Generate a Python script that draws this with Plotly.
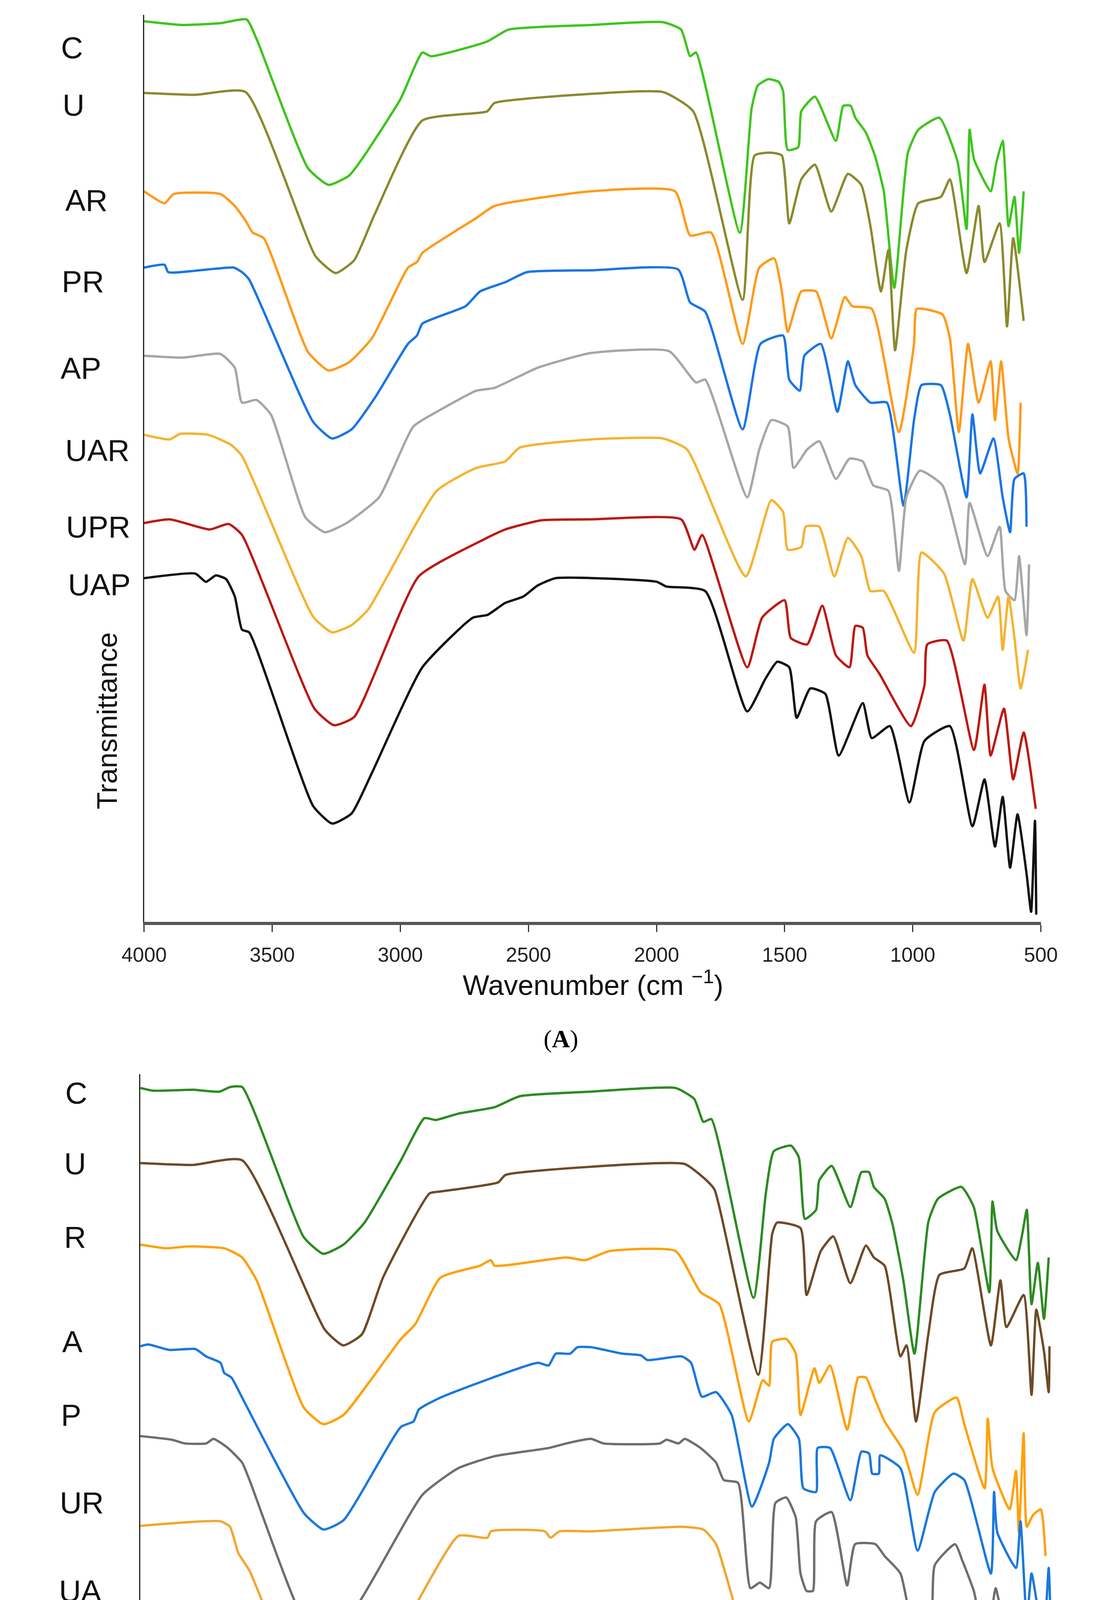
import plotly.graph_objects as go

# FTIR spectra, (wavenumber cm-1, transmittance offset)
A_C = [(4000,98),(3850,97.6),(3700,97.8),(3600,98.2),(3560,96),(3360,82),(3280,80.2),(3200,81.2),(3150,83),(3000,89.5),(2914,94.6),(2880,94.2),(2661,95.8),(2577,97.1),(2256,97.6),(1975,97.9),(1904,97.1),(1869,94.2),(1846,94.6),(1675,75),(1629,88.5),(1605,91),(1564,91.7),(1523,91.4),(1506,90.4),(1488,84),(1447,84.3),(1435,88.2),(1382,89.8),(1300,85),(1271,88.8),(1242,88.8),(1224,87.5),(1183,85.9),(1148,83.4),(1113,79.5),(1072,69),(1019,83.7),(978,86.2),(896,87.5),(825,82.7),(790,75.4),(778,86.2),(761,83),(696,79.5),(673,82.7),(649,85),(626,75.7),(603,78.9),(585,72.8),(567,79.5)]
A_U = [(4000,90.2),(3800,90),(3604,90.3),(3330,72.4),(3252,70.6),(3180,72),(3100,77),(2914,87.2),(2661,88.2),(2633,89.1),(2256,90.1),(1975,90.3),(1857,88.2),(1664,67.7),(1617,83.4),(1552,83.7),(1511,83.4),(1482,76),(1435,80.8),(1382,82.4),(1318,77.3),(1253,81.4),(1201,80.2),(1165,75.7),(1124,68.6),(1095,73.1),(1069,62.2),(1025,73.1),(978,78.2),(890,78.9),(855,80.8),(790,70.6),(743,77.9),(720,71.8),(661,76),(632,64.8),(608,74.4),(567,65.4)]
A_AR = [(4000,79.5),(3920,78.2),(3885,79.2),(3702,79.2),(3646,77.9),(3604,76.3),(3576,75),(3533,74.4),(3360,62),(3280,60),(3200,60.9),(3111,63.5),(2970,71.2),(2935,71.8),(2914,72.8),(2703,76.6),(2633,77.9),(2256,79.5),(1928,79.5),(1869,74.7),(1787,75),(1664,62.9),(1599,71.2),(1541,72.2),(1511,68.6),(1488,64.2),(1435,68.6),(1377,68.6),(1318,63.5),(1265,68),(1236,67),(1160,66.7),(1054,53.3),(995,62.9),(984,66.7),(884,66.1),(855,63.5),(820,53.3),(784,62.9),(743,56.5),(696,61),(679,54.6),(655,61),(626,52.6),(591,48.8),(579,56.5)]
A_PR = [(4000,71.2),(3920,71.5),(3906,70.7),(3750,71),(3650,71.2),(3618,70.7),(3590,69.9),(3340,54.4),(3266,52.6),(3190,53.6),(3100,57),(2970,62.9),(2935,63.8),(2914,65.1),(2745,67),(2689,68.6),(2591,69.6),(2506,70.7),(2256,70.9),(1916,71),(1869,67.4),(1810,66.4),(1664,53.6),(1594,62.9),(1506,63.8),(1482,59),(1441,57.8),(1423,61.6),(1359,62.9),(1294,55.5),(1253,61),(1224,58.4),(1165,56.5),(1101,56.5),(1036,45.3),(995,54.6),(966,58.4),(890,58.4),(855,55.2),(790,46.2),(767,55.2),(737,48.8),(685,52.6),(649,46.2),(620,42.4),(603,48.2),(567,48.8),(556,43)]
A_AP = [(4000,61.6),(3850,61.4),(3702,61.8),(3646,60.3),(3618,56.5),(3562,56.8),(3505,55.2),(3370,44),(3294,42.4),(3210,43.4),(3083,46.2),(2949,53.9),(2858,55.5),(2703,57.8),(2633,58.1),(2464,60.3),(2256,61.9),(1951,62.1),(1846,58.7),(1810,59),(1646,46.2),(1599,51.4),(1552,54.6),(1488,53.9),(1465,49.4),(1412,51.4),(1365,52.3),(1300,48.2),(1247,50.4),(1195,50.1),(1154,47.5),(1095,46.9),(1054,38.2),(1025,46.2),(972,49.1),(884,47.5),(796,38.9),(778,45.6),(708,39.8),(661,43),(638,36),(603,35),(585,39.8),(556,31.2),(546,38.9)]
A_UAR = [(4000,53),(3900,52.5),(3860,53.1),(3750,53),(3660,51.9),(3618,50.7),(3340,33.2),(3266,31.5),(3190,32.3),(3125,34),(2858,46.9),(2703,49.4),(2591,50.1),(2534,51.6),(2256,52.5),(1975,52.6),(1881,51.4),(1652,37.6),(1552,45.9),(1506,44.6),(1488,40.5),(1435,40.8),(1418,43),(1365,43),(1306,37.6),(1253,41.8),(1201,39.8),(1165,36),(1113,36),(995,29.3),(966,40.2),(878,37.9),(802,30.6),(767,37.3),(708,33.1),(667,35.4),(649,29.6),(626,35.4),(603,30.9),(579,25.4),(550,29.6)]
A_UPR = [(4000,43.4),(3900,43.8),(3744,42.7),(3670,43.3),(3618,42.1),(3335,23.2),(3259,21.4),(3180,22.3),(2928,37.6),(2675,41.6),(2591,42.7),(2450,43.7),(2256,43.8),(1904,43.8),(1852,40.5),(1822,42.1),(1646,27.7),(1588,33.1),(1500,35),(1476,30.9),(1412,30.2),(1353,34.4),(1300,29),(1247,27.7),(1224,32.2),(1195,32),(1177,29),(1130,27),(1007,21.3),(954,25.8),(943,30.2),(867,30.6),(761,18.7),(720,25.8),(696,18.1),(644,23.2),(608,15.5),(567,20.6),(520,12.3)]
A_UAP = [(4000,37.4),(3800,37.9),(3759,37),(3720,37.7),(3680,37.3),(3646,35.4),(3618,31.8),(3590,31.5),(3340,12.6),(3266,10.7),(3190,11.8),(3111,16.2),(2914,27.7),(2717,33.1),(2660,33.4),(2591,34.7),(2520,35.4),(2464,36.6),(2394,37.4),(1998,37),(1963,36.5),(1810,36),(1646,22.9),(1576,26.4),(1529,28.3),(1482,27.7),(1453,22.2),(1400,25.4),(1341,24.8),(1289,18.1),(1195,23.8),(1160,20),(1089,21.3),(1013,13),(954,19.7),(855,21.3),(767,10.4),(720,15.5),(679,8.2),(649,13.6),(620,5.9),(591,11.7),(556,5.3),(538,1.1),(523,11),(518,0.8)]

B_C = [(4000,96.7),(3950,96.4),(3800,96.5),(3700,96.3),(3660,96.8),(3614,96.8),(3380,80.4),(3306,78.6),(3230,79.6),(3150,82),(3012,88.8),(2923,93.4),(2880,93.2),(2794,93.9),(2657,94.6),(2561,95.8),(2291,96.3),(1971,96.7),(1900,95.5),(1865,93),(1835,93.3),(1675,73.8),(1628,85.3),(1598,89.8),(1533,90.4),(1503,89.1),(1480,82.4),(1438,83.4),(1426,86.6),(1379,88.2),(1308,83.7),(1266,87.5),(1237,87.5),(1219,85.9),(1178,84.6),(1148,81.8),(1107,75.7),(1065,67.7),(1012,82.1),(976,84.6),(887,85.9),(840,83.7),(781,74.4),(769,84.3),(751,81.1),(680,77.9),(656,80.8),(639,83.4),(621,73.1),(597,77.6),(574,71.5),(556,78.2)]
B_U = [(4000,88.5),(3800,88.3),(3614,88.8),(3300,70.3),(3231,68.6),(3160,69.8),(3080,76),(2903,85.2),(2862,85.4),(2643,86.4),(2616,87.2),(2291,88.1),(1936,88.4),(1853,86.6),(1823,85.6),(1657,65.4),(1604,80.8),(1586,82),(1497,81.4),(1474,74.1),(1420,78.9),(1373,80.5),(1308,75.4),(1249,79.5),(1219,78.2),(1178,77.3),(1118,67.4),(1095,68.6),(1059,60.3),(1012,69.9),(970,76.3),(876,77),(846,79.2),(775,68.6),(739,75.7),(716,70.6),(651,74.1),(621,63.2),(603,72.5),(574,68),(556,63.5),(553,68.5)]
B_R = [(4000,79.6),(3901,79.2),(3820,79.4),(3682,79.2),(3614,78.2),(3559,75.7),(3380,61.8),(3306,60),(3230,61),(3012,69.3),(2958,70.9),(2862,76),(2712,77.3),(2671,77.9),(2657,77.3),(2384,78.2),(2315,77.9),(2220,78.9),(1971,78.9),(1876,74.4),(1805,73.1),(1693,60.3),(1640,64.8),(1616,64.2),(1604,69),(1551,69.3),(1515,67.7),(1497,61),(1444,66.1),(1426,64.5),(1385,66.4),(1320,59.4),(1278,65.1),(1249,65.1),(1213,62.6),(1178,60.3),(1107,57.1),(1053,52.3),(988,61.3),(905,62.9),(876,60),(799,53),(787,60.6),(769,55.2),(704,50.7),(680,54.9),(669,48.2),(651,59),(639,48.8),(615,50.1),(586,50.7),(568,45.6)]
B_A = [(4000,68.5),(3970,68.7),(3890,68.1),(3791,68.2),(3751,67.4),(3696,66.7),(3682,65.6),(3655,65.1),(3614,62.9),(3380,50.3),(3306,48.5),(3230,49.5),(3012,59.7),(2964,60.3),(2944,61.6),(2862,62.9),(2493,66.7),(2452,66.4),(2425,67.7),(2370,67.7),(2343,68.4),(2291,68.4),(2173,67.7),(2101,67.5),(2078,67),(1947,67.4),(1912,66.7),(1871,63),(1817,63.5),(1758,61),(1681,51),(1616,55.8),(1598,58.4),(1545,60),(1503,58.4),(1486,53),(1438,52.6),(1432,57.4),(1385,57.4),(1308,51.7),(1266,57),(1237,56.8),(1225,54.6),(1200,54.6),(1195,56.6),(1118,55.2),(1053,46.2),(988,52.6),(917,54.6),(876,53.9),(775,43.7),(763,52.6),(751,48.2),(680,44.3),(663,49.4),(639,38.6),(621,43.7),(597,39.8),(576,35.7),(556,44.3),(550,39.8)]
B_P = [(4000,58.7),(3880,58.3),(3832,57.9),(3750,57.9),(3723,58.4),(3668,57.4),(3614,55.8),(3586,53.9),(3390,39.2),(3320,37.6),(3204,39.2),(2930,52.3),(2794,55.2),(2657,56.5),(2452,57.4),(2384,57.9),(2291,58.4),(2244,57.9),(2030,57.9),(2005,58.3),(1959,57.9),(1936,58.4),(1876,57.4),(1817,55.8),(1788,53.9),(1734,53.6),(1687,42.1),(1651,42.7),(1616,42.1),(1592,51.4),(1551,52),(1515,49.8),(1497,43.7),(1474,41.8),(1450,41.8),(1438,49.4),(1379,50.4),(1320,42.4),(1290,46.9),(1213,46.9),(1178,45.6),(1118,43.7),(1059,36.6),(1006,36.6),(988,44.6),(911,46.9),(882,45),(840,41.8),(793,35.7),(757,42.1),(739,40.2),(680,38.6),(656,40.5),(633,38.6),(609,35),(591,37.9),(568,35.7),(552,38.9),(550,34.1)]
B_UR = [(4000,48.9),(3696,49.4),(3660,48.8),(3628,45.9),(3586,44),(3370,29.2),(3299,27.5),(3190,29),(2971,39.5),(2794,47.8),(2684,47.6),(2671,48.3),(2466,48.3),(2445,47.6),(2411,48.3),(2291,48.3),(1947,48.8),(1865,48.5),(1817,46.9),(1657,32.2),(1580,40.2),(1497,40.2),(1474,37.6),(1462,34.4),(1426,34.7),(1409,38.2),(1361,37.9),(1308,34.1),(1278,31.8),(1260,37),(1213,36.6),(1148,34.7),(1018,23.8),(982,31.2),(929,32.8),(858,32.8),(775,24.2),(739,29),(722,29.6),(698,25.1),(663,29),(645,22.6),(633,27),(621,22.6),(609,28.6),(586,26.4),(568,28.3),(556,21.3),(538,22.2)]
B_UA = [(4000,39.7),(3914,39.1),(3860,39.5),(3805,39.2),(3696,37.6),(3668,36.3),(3648,34.7),(3586,32.2),(3385,20.1),(3313,18.4),(3240,19),(3177,20.3),(2958,32.8),(2862,36.3),(2725,37),(2630,37.4),(2466,38.2),(2291,38.2),(1936,38.2),(1876,36.6),(1835,33.4),(1782,33.8),(1734,29.6),(1710,29.6),(1675,22.6),(1592,29.3),(1539,30.6),(1521,29),(1486,23.2),(1426,23.8),(1373,27.7),(1320,27.7),(1284,21.9),(1183,27.4),(1107,25.8),(994,16.8),(964,23.2),(899,25.1),(858,24.2),(763,16.2),(751,19.4),(728,18.7),(674,14.2),(651,17.4),(627,11),(609,16.2),(586,13),(550,13.3),(538,14)]
B_UP = [(4000,28.8),(3780,28.8),(3751,29.1),(3710,28.8),(3682,28.6),(3641,27.4),(3390,6.9),(3306,4.8),(3231,5.9),(2985,18.1),(2766,27.8),(2684,28.3),(2520,28.2),(2466,28.8),(2356,28.4),(2322,28),(2184,27.8),(1959,28),(1924,27.4),(1865,26.4),(1788,26.5),(1669,13.6),(1610,18.7),(1586,18.7),(1568,20.6),(1515,20.6),(1480,13.3),(1426,13.6),(1409,18.4),(1355,17.8),(1308,17.1),(1272,12.6),(1243,15.2),(1059,14.2),(1018,6.6),(988,11.7),(947,13.9),(882,14.9),(799,6.2),(751,9.4),(722,12.3),(698,8.5),(686,10.4),(663,2.1),(621,7.8),(609,4),(586,5.9),(538,6.6),(536,0.5)]

names_a = ["C", "U", "AR", "PR", "AP", "UAR", "UPR", "UAP"]
names_b = ["C", "U", "R", "A", "P", "UR", "UA", "UP"]
colors_a = ["#3ec51e", "#8a8a2e", "#ff9a1a", "#1a75e6", "#a6a6a6", "#f5b330", "#bb1a12", "#111111"]
colors_b = ["#2d8a22", "#6e4a26", "#ffa00a", "#1a78dd", "#6e6e6e", "#f2a630", "#b3141a", "#000000"]
spectra_a = [A_C, A_U, A_AR, A_PR, A_AP, A_UAR, A_UPR, A_UAP]
spectra_b = [B_C, B_U, B_R, B_A, B_P, B_UR, B_UA, B_UP]
ticks = [4000, 3500, 3000, 2500, 2000, 1500, 1000, 500]

W, H = 2820, 5421
fig = go.Figure()

for spec, col, nm in zip(spectra_a, colors_a, names_a):
    fig.add_trace(go.Scatter(x=[p[0] for p in spec], y=[p[1] for p in spec], mode="lines", name=nm,
                             line=dict(color=col, width=6, shape="spline", smoothing=0.5),
                             xaxis="x", yaxis="y"))
for spec, col, nm in zip(spectra_b, colors_b, names_b):
    fig.add_trace(go.Scatter(x=[p[0] for p in spec], y=[p[1] for p in spec], mode="lines", name=nm,
                             line=dict(color=col, width=6, shape="spline", smoothing=0.5),
                             xaxis="x2", yaxis="y2"))

xax = dict(range=[4000, 500], tickvals=ticks, ticks="outside", ticklen=18, tickwidth=3, tickcolor="#333",
           showline=True, linewidth=8, linecolor="#555", showgrid=False, zeroline=False,
           ticklabelstandoff=14, tickfont=dict(family="Liberation Sans Narrow, Liberation Sans, Arial", size=52, color="#222"))
yax = dict(showline=True, linewidth=3, linecolor="#222", showticklabels=False, ticks="",
           showgrid=False, zeroline=False)

fig.update_layout(
    width=W, height=H, margin=dict(l=0, r=0, t=0, b=0),
    paper_bgcolor="white", plot_bgcolor="white", showlegend=False,
    xaxis=dict(xax, domain=[314 / W, 2694 / W], anchor="y"),
    yaxis=dict(yax, domain=[1 - 2352 / H, 1 - 30 / H], range=[0, 98.7], anchor="x"),
    xaxis2=dict(xax, domain=[304 / W, 2754 / W], anchor="y2"),
    yaxis2=dict(yax, domain=[1 - 5045 / H, 1 - 2742 / H], range=[0, 98.2], anchor="x2"),
)

lab_font = dict(family="Liberation Sans, Arial", size=78, color="#111")
ya = [68, 215, 459, 667, 889, 1099, 1295, 1443]
xa = [91, 95, 103, 93, 90, 103, 105, 110]
for nm, x, y in zip(names_a, xa, ya):
    fig.add_annotation(text=nm, x=x / W, y=1 - y / H, xref="paper", yref="paper", showarrow=False, font=lab_font)
yb = [2790, 2971, 3159, 3427, 3661, 3885, 4111, 4349]
xb = [103, 100, 100, 94, 91, 88, 86, 84]
for nm, x, y in zip(names_b, xb, yb):
    fig.add_annotation(text=nm, x=x / W, y=1 - y / H, xref="paper", yref="paper", showarrow=False, font=lab_font)

narrow = dict(family="Liberation Sans Narrow, Liberation Sans, Arial", size=72, color="#111")
for y in [1837, 4673]:
    fig.add_annotation(text="Transmittance", x=172 / W, y=1 - y / H, xref="paper", yref="paper",
                       showarrow=False, textangle=-90, font=narrow)
for x, y in [(1505, 2508), (1515, 5212)]:
    fig.add_annotation(text="Wavenumber (cm <sup>−1</sup>)", x=x / W, y=1 - y / H, xref="paper", yref="paper",
                       showarrow=False, font=narrow)
for t, y in [("(<b>A</b>)", 2651), ("(<b>B</b>)", 5372)]:
    fig.add_annotation(text=t, x=1420 / W, y=1 - y / H, xref="paper", yref="paper", showarrow=False,
                       font=dict(family="Liberation Serif, Times New Roman", size=64, color="#000"))

fig.write_html("out.html")
